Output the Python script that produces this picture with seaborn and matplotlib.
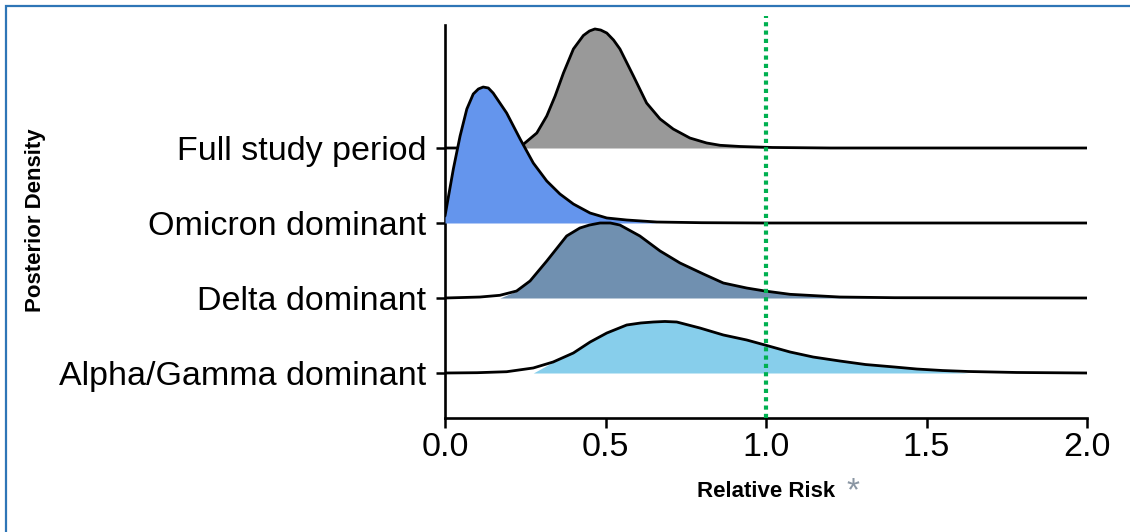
import numpy as np
import pandas as pd
import matplotlib
matplotlib.use("Agg")
import matplotlib.pyplot as plt
from matplotlib.patches import Rectangle
import seaborn as sns

# periods, bottom row first
periods = ["Alpha/Gamma dominant", "Delta dominant", "Omicron dominant", "Full study period"]
colors = ["#87CEEB", "#7090B0", "#6495ED", "#999999"]

# posterior density curves (height in row units)
alpha_x = [0.0, 0.1, 0.192, 0.275, 0.337, 0.40, 0.452, 0.504, 0.566, 0.61, 0.649, 0.685, 0.722,
           0.794, 0.867, 0.94, 0.997, 1.075, 1.147, 1.23, 1.31, 1.4, 1.47, 1.55, 1.63, 1.78, 2.0]
alpha_d = [0.0, 0.004, 0.017, 0.067, 0.147, 0.267, 0.413, 0.533, 0.64, 0.667, 0.68, 0.687, 0.68,
           0.60, 0.507, 0.44, 0.373, 0.28, 0.213, 0.16, 0.113, 0.08, 0.053, 0.033, 0.02, 0.007, 0.0]

delta_x = [0.0, 0.109, 0.171, 0.223, 0.265, 0.317, 0.379, 0.42, 0.45, 0.483, 0.515, 0.545,
           0.607, 0.67, 0.732, 0.805, 0.867, 0.94, 0.997, 1.075, 1.23, 1.4, 2.0]
delta_d = [0.0, 0.013, 0.036, 0.093, 0.227, 0.493, 0.827, 0.933, 0.973, 1.0, 1.0, 0.973,
           0.827, 0.627, 0.467, 0.32, 0.20, 0.133, 0.093, 0.049, 0.013, 0.004, 0.0]

omicron_x = [0.0, 0.026, 0.047, 0.068, 0.088, 0.104, 0.119, 0.135, 0.15, 0.192, 0.234, 0.275,
             0.317, 0.358, 0.40, 0.452, 0.504, 0.566, 0.66, 0.8, 1.0, 2.0]
omicron_d = [0.093, 0.72, 1.16, 1.52, 1.72, 1.787, 1.813, 1.80, 1.733, 1.467, 1.12, 0.80,
             0.56, 0.387, 0.253, 0.133, 0.067, 0.04, 0.013, 0.004, 0.0, 0.0]

full_x = [0.0, 0.15, 0.2, 0.244, 0.286, 0.317, 0.343, 0.369, 0.40, 0.431, 0.45, 0.467, 0.485,
          0.504, 0.525, 0.545, 0.587, 0.628, 0.67, 0.711, 0.763, 0.815, 0.857, 0.92, 1.02, 1.2, 2.0]
full_d = [0.0, 0.0, 0.013, 0.049, 0.20, 0.427, 0.693, 1.0, 1.32, 1.50, 1.56, 1.587, 1.573,
          1.533, 1.44, 1.32, 0.96, 0.60, 0.387, 0.253, 0.133, 0.067, 0.036, 0.02, 0.007, 0.0, 0.0]

# shaded interval of each curve
fill_lo = [0.28, 0.21, 0.0, 0.24]
fill_hi = [1.62, 1.24, 0.60, 0.97]

curves_x = [alpha_x, delta_x, omicron_x, full_x]
curves_d = [alpha_d, delta_d, omicron_d, full_d]

x_ticks = [0.0, 0.5, 1.0, 1.5, 2.0]
ref_line = 1.0

rows = []
for i, name in enumerate(periods):
    for xv, dv in zip(curves_x[i], curves_d[i]):
        rows.append({"period": name, "row": i, "x": xv, "y": i + dv})
df = pd.DataFrame(rows)

sns.set_style("ticks")
plt.rcParams["font.family"] = ["Liberation Sans", "DejaVu Sans"]
plt.rcParams["text.color"] = "black"

fig = plt.figure(figsize=(11.3, 5.32), dpi=100)
ax = fig.add_axes([445 / 1130, 1 - 418 / 532, (1087 - 445) / 1130, (418 - 16) / 532])

# top row at the back, bottom row in front
for i in range(len(periods) - 1, -1, -1):
    sub = df[df["row"] == i]
    z = 10 - 2 * i
    xs = sub["x"].to_numpy()
    ys = sub["y"].to_numpy()
    mask = (xs >= fill_lo[i] - 1e-9) & (xs <= fill_hi[i] + 1e-9)
    ax.fill_between(xs, i, ys, where=mask, interpolate=True,
                    color=colors[i], lw=0, zorder=z)
    sns.lineplot(data=sub, x="x", y="y", ax=ax, color="black", lw=2.0,
                 sort=False, estimator=None, zorder=z + 1,
                 solid_joinstyle="round", solid_capstyle="round")

ax.axvline(ref_line, color="#00B050", lw=3.0, linestyle=(0, (1.0, 1.0)), zorder=20)

ax.set_xlim(0, 2.0)
ax.set_ylim(-0.6, (373 - 16) / 75)
ax.set_xticks(x_ticks)
ax.set_xticklabels([f"{t:.1f}" for t in x_ticks])
ax.set_yticks(range(len(periods)))
ax.set_yticklabels(periods)
ax.set_xlabel("")
ax.set_ylabel("")

sns.despine(ax=ax)
ax.spines["left"].set_bounds(-0.6, (373 - 25) / 75)
for s in ["left", "bottom"]:
    ax.spines[s].set_linewidth(1.9)
    ax.spines[s].set_color("black")
ax.tick_params(axis="y", length=6.5, width=1.8, pad=7, labelsize=24.5, colors="black")
ax.tick_params(axis="x", length=7, width=1.8, pad=3, labelsize=24.5, colors="black")

fig.text(36 / 1130, 1 - 220 / 532, "Posterior Density", rotation=90, ha="center",
         va="center", fontsize=16, fontweight="bold", color="black")
fig.text(766 / 1130, 1 - 497 / 532, "Relative Risk", ha="center", va="baseline",
         fontsize=16, fontweight="bold", color="black")
fig.text(846 / 1130, 1 - 500 / 532, "*", ha="left", va="baseline",
         fontsize=24, color="#8A96A3")

fig.add_artist(Rectangle((6 / 1130, -0.5), 2.0, 1.5 - 6 / 532, transform=fig.transFigure,
                         fill=False, ec="#2E75B6", lw=1.6))

fig.savefig("out.png", dpi=100)
